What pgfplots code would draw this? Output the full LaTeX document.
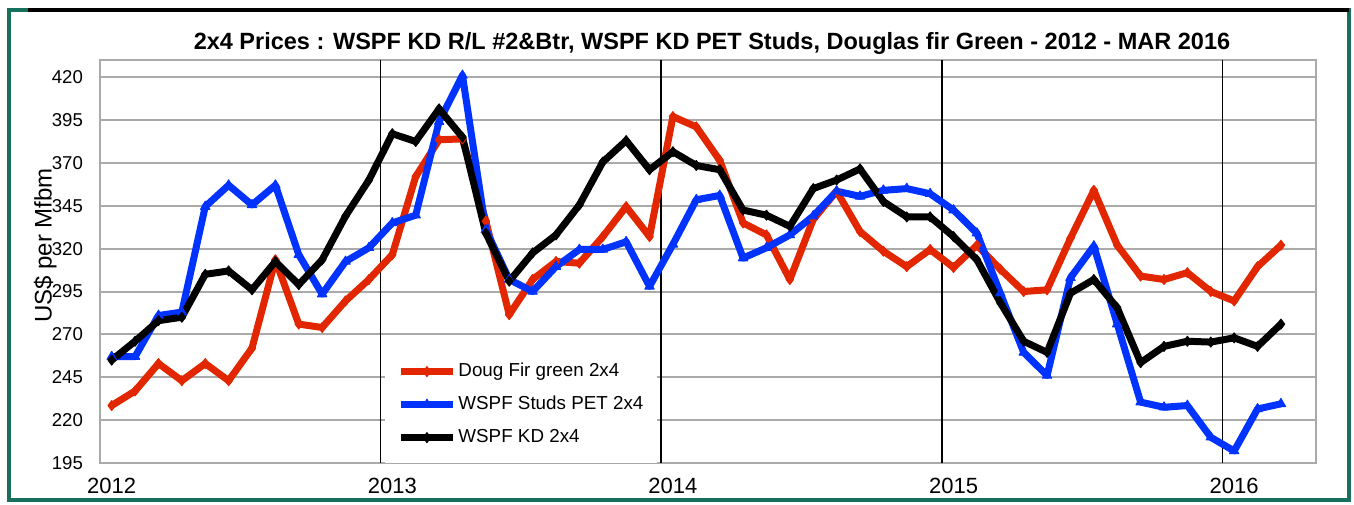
\documentclass[border=0pt]{standalone}
\usepackage{pgfplots}
\pgfplotsset{compat=1.18}
\usepackage{fontspec}
\setmainfont{Liberation Sans}
\definecolor{dfred}{RGB}{226,38,0}
\definecolor{spfblue}{RGB}{0,51,255}
\definecolor{gridgray}{RGB}{170,170,170}
\definecolor{frameteal}{RGB}{22,112,92}
\begin{document}
\begin{tikzpicture}
\useasboundingbox (0,0) rectangle (677pt,252pt);
\fill[white] (0,0) rectangle (677pt,252pt);
\draw[frameteal, line width=1.7pt] (4.5pt,2pt) rectangle (674.5pt,247pt);
\draw[black, line width=1.7pt] (14pt,247pt) -- (674.5pt,247pt);
\begin{axis}[
  at={(50pt,20.5pt)}, anchor=south west,
  scale only axis, width=608pt, height=201.5pt,
  xmin=0, xmax=52, ymin=195, ymax=430,
  axis line style={gridgray, line width=1pt},
  xtick={0.5,12.5,24.5,36.5,48.5},
  xticklabels={2012,2013,2014,2015,2016},
  extra x ticks={12,24,36,48},
  extra x tick labels={},
  extra x tick style={grid=major, major grid style={black, line width=0.8pt}},
  ytick={195,220,245,270,295,320,345,370,395,420},
  ymajorgrids, major grid style={gridgray, line width=1pt},
  major tick length=0pt,
  /pgf/number format/assume math mode=true,
  yticklabel style={font=\fontsize{9.3}{11}\selectfont, xshift=-5pt},
  xticklabel style={font=\fontsize{11}{13}\selectfont, yshift=-4pt},
  ylabel={US\$ per Mfbm},
  ylabel style={font=\fontsize{12}{14}\selectfont, at={(axis description cs:-0.045,0.54)}, anchor=center},
  title={2x4 Prices : WSPF KD R/L \#2\&Btr, WSPF KD PET Studs, Douglas fir Green - 2012 - MAR 2016},
  title style={font=\bfseries\fontsize{11.75}{13}\selectfont, at={(axis description cs:0.5,1)}, anchor=center, yshift=2.5pt, xshift=2pt},
  legend style={at={(axis description cs:0.2344,0)}, anchor=south west, draw=none, fill=white,
    font=\fontsize{9.4}{11}\selectfont, inner xsep=6pt, inner ysep=7pt, row sep=5.5pt,
    nodes={inner sep=1pt, text height=7pt, text depth=2pt}},
  legend cell align=left,
  legend image code/.code={\draw[mark repeat=2,mark phase=2] plot coordinates {(0pt,0pt) (13pt,0pt) (26pt,0pt)};},
  every axis plot/.append style={line width=3.5pt, line join=round},
]
\addplot[dfred, mark=diamond*, mark size=2.5pt, mark options={line width=0.5pt}] table {
x y
0.5 228.5
1.5 237
2.5 253
3.5 243
4.5 253
5.5 243
6.5 262
7.5 313.5
8.5 276
9.5 274
10.5 289.5
11.5 302
12.5 316.5
13.5 362
14.5 383.5
15.5 384
16.5 336
17.5 281.5
18.5 302
19.5 312.5
20.5 311.5
21.5 327
22.5 344.5
23.5 327
24.5 397
25.5 391
26.5 371.5
27.5 335
28.5 328
29.5 302
30.5 337
31.5 353.5
32.5 330
33.5 318.5
34.5 309.5
35.5 319.5
36.5 309
37.5 322
38.5 308
39.5 295
40.5 296
41.5 326
42.5 354
43.5 322
44.5 304
45.5 302
46.5 306
47.5 295
48.5 289.5
49.5 309.5
50.5 322
};
\addlegendentry{Doug Fir green 2x4}
\addplot[spfblue, mark=triangle*, mark size=2.7pt, mark options={line width=0.5pt}] table {
x y
0.5 257
1.5 257
2.5 281
3.5 283
4.5 344.5
5.5 357
6.5 345.5
7.5 357
8.5 316.5
9.5 293.5
10.5 312.5
11.5 320.5
12.5 335
13.5 339.5
14.5 394
15.5 421
16.5 331
17.5 302
18.5 295
19.5 309.5
20.5 319.5
21.5 319.5
22.5 324
23.5 298
24.5 322.5
25.5 348.5
26.5 351
27.5 314.5
28.5 320.5
29.5 328
30.5 339
31.5 353.5
32.5 350.5
33.5 354
34.5 355
35.5 352
36.5 342.5
37.5 329
38.5 294
39.5 259.5
40.5 246
41.5 303
42.5 321.5
43.5 276
44.5 230.5
45.5 227.5
46.5 228.5
47.5 210
48.5 202
49.5 226.5
50.5 229.5
};
\addlegendentry{WSPF Studs PET 2x4}
\addplot[black, mark=diamond*, mark size=2.5pt, mark options={line width=0.5pt}] table {
x y
0.5 255
1.5 266
2.5 278
3.5 280
4.5 305
5.5 307
6.5 296
7.5 312.5
8.5 299
9.5 313.5
10.5 339
11.5 360
12.5 387
13.5 382.5
14.5 401.5
15.5 385
16.5 329
17.5 301
18.5 317.5
19.5 328
20.5 345.5
21.5 370.5
22.5 383
23.5 366
24.5 376.5
25.5 368.5
26.5 366
27.5 342.5
28.5 339.5
29.5 333
30.5 355
31.5 360
32.5 366.5
33.5 347.5
34.5 338.5
35.5 338.5
36.5 327
37.5 313.5
38.5 288.5
39.5 266
40.5 259.5
41.5 294
42.5 302
43.5 285.5
44.5 253.5
45.5 263
46.5 266
47.5 265.5
48.5 268
49.5 263
50.5 276
};
\addlegendentry{WSPF KD 2x4}
\end{axis}
\end{tikzpicture}
\end{document}
